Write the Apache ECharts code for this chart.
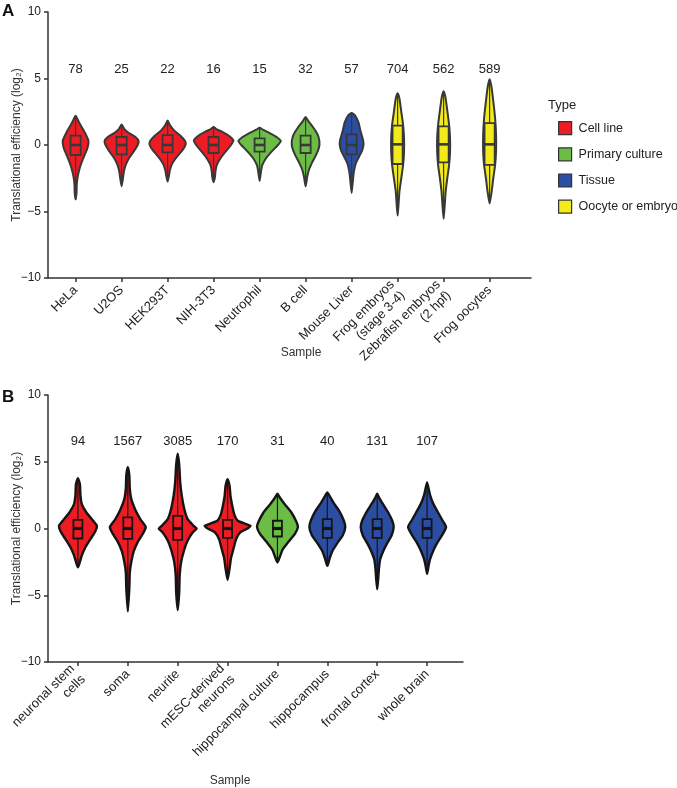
<!DOCTYPE html>
<html><head><meta charset="utf-8">
<script src="https://cdn.jsdelivr.net/npm/echarts@6/dist/echarts.min.js"></script>
<style>html,body{margin:0;padding:0;background:#fff}#c{width:677px;height:788px}</style>
</head><body><div id="c"></div>
<script>
// ---------- data ----------
const typeNames = ['Cell line', 'Primary culture', 'Tissue', 'Oocyte or embryo'];
const typeColors = ['#ED1C24', '#6CBD45', '#2B4EA2', '#F2EA1A'];

// Panel A
const samplesA = ['HeLa', 'U2OS', 'HEK293T', 'NIH-3T3', 'Neutrophil', 'B cell', 'Mouse Liver',
  'Frog embryos\n(stage 3-4)', 'Zebrafish embryos\n(2 hpf)', 'Frog oocytes'];
const typesA = [0, 0, 0, 0, 1, 1, 2, 3, 3, 3];
const countsA = [78, 25, 22, 16, 15, 32, 57, 704, 562, 589];
const maxA = [2.2, 1.55, 1.85, 1.35, 1.3, 2.1, 2.4, 3.9, 4.05, 4.95];
const minA = [-4.1, -3.1, -2.75, -2.8, -2.7, -3.1, -3.6, -5.3, -5.55, -4.4];
const q3A = [0.7, 0.6, 0.75, 0.6, 0.5, 0.7, 0.8, 1.45, 1.4, 1.65];
const medA = [0, 0, 0, 0, 0, 0, 0, 0.05, 0.05, 0.05];
const q1A = [-0.75, -0.7, -0.55, -0.6, -0.5, -0.6, -0.7, -1.43, -1.3, -1.5];
// violin outline: [value, half width]
const profA = [
  [[1.8,0.06],[1.3,0.14],[0.8,0.22],[0.3,0.28],[-0.2,0.26],[-0.8,0.19],[-1.4,0.12],[-2.0,0.07],[-2.5,0.04],[-3.0,0.025],[-3.6,0.02]],
  [[1.2,0.06],[0.9,0.16],[0.6,0.3],[0.3,0.37],[0.0,0.35],[-0.5,0.26],[-1.0,0.16],[-1.5,0.09],[-2.0,0.05],[-2.5,0.03]],
  [[1.5,0.05],[1.1,0.14],[0.7,0.28],[0.3,0.38],[0.0,0.39],[-0.4,0.32],[-0.9,0.2],[-1.4,0.1],[-1.9,0.05],[-2.3,0.03]],
  [[1.2,0.06],[1.0,0.18],[0.7,0.33],[0.35,0.43],[0.0,0.38],[-0.5,0.26],[-1.0,0.15],[-1.5,0.07],[-2.0,0.04],[-2.4,0.03]],
  [[1.15,0.07],[0.9,0.22],[0.6,0.37],[0.3,0.46],[0.0,0.4],[-0.5,0.26],[-1.0,0.14],[-1.5,0.06],[-2.0,0.03]],
  [[1.8,0.06],[1.3,0.17],[0.8,0.26],[0.3,0.3],[-0.2,0.29],[-0.8,0.22],[-1.4,0.13],[-1.9,0.07],[-2.4,0.035]],
  [[2.2,0.08],[1.7,0.15],[1.1,0.19],[0.5,0.24],[0.1,0.26],[-0.4,0.23],[-0.9,0.16],[-1.4,0.09],[-2.0,0.05],[-2.6,0.03]],
  [[3.5,0.04],[2.5,0.08],[1.5,0.12],[0.5,0.14],[-0.5,0.14],[-1.5,0.12],[-2.5,0.08],[-3.5,0.04],[-4.5,0.02]],
  [[3.6,0.04],[2.6,0.08],[1.5,0.12],[0.5,0.14],[-0.5,0.14],[-1.5,0.12],[-2.5,0.08],[-3.5,0.045],[-4.5,0.025]],
  [[4.4,0.04],[3.3,0.08],[2.0,0.12],[0.8,0.14],[-0.5,0.14],[-1.5,0.12],[-2.5,0.08],[-3.5,0.045]]
];

// Panel B
const samplesB = ['neuronal stem\ncells', 'soma', 'neurite', 'mESC-derived\nneurons',
  'hippocampal culture', 'hippocampus', 'frontal cortex', 'whole brain'];
const typesB = [0, 0, 0, 0, 1, 2, 2, 2];
const countsB = [94, 1567, 3085, 170, 31, 40, 131, 107];
const maxB = [3.76, 4.6, 5.6, 3.7, 2.6, 2.7, 2.6, 3.45];
const minB = [-2.9, -6.2, -6.1, -3.85, -2.55, -2.8, -4.55, -3.4];
const q3B = [0.65, 0.83, 0.95, 0.65, 0.58, 0.7, 0.7, 0.7];
const medB = [0, 0, 0, 0, 0, 0, 0, 0];
const q1B = [-0.75, -0.78, -0.85, -0.7, -0.6, -0.7, -0.7, -0.7];
const profB = [
  [[3.3,0.04],[2.5,0.05],[1.8,0.08],[1.2,0.17],[0.6,0.3],[0.2,0.38],[-0.2,0.35],[-0.8,0.25],[-1.4,0.15],[-2.0,0.08],[-2.5,0.04]],
  [[4.0,0.03],[3.0,0.04],[2.2,0.07],[1.4,0.15],[0.7,0.25],[0.1,0.36],[-0.4,0.3],[-1.0,0.2],[-1.7,0.12],[-2.5,0.07],[-3.3,0.04],[-4.5,0.03]],
  [[4.8,0.03],[3.5,0.05],[2.5,0.08],[1.5,0.13],[0.7,0.2],[0.2,0.32],[0.0,0.38],[-0.3,0.3],[-0.9,0.2],[-1.6,0.13],[-2.5,0.07],[-3.5,0.04],[-4.8,0.03]],
  [[3.2,0.04],[2.4,0.06],[1.6,0.1],[1.0,0.14],[0.6,0.2],[0.35,0.36],[0.2,0.46],[0.0,0.4],[-0.3,0.25],[-0.8,0.17],[-1.5,0.12],[-2.2,0.07],[-3.0,0.04]],
  [[2.3,0.05],[1.8,0.15],[1.2,0.28],[0.5,0.38],[0.1,0.41],[-0.4,0.35],[-1.0,0.22],[-1.6,0.1],[-2.1,0.05]],
  [[2.4,0.05],[1.9,0.13],[1.3,0.24],[0.6,0.33],[0.1,0.36],[-0.5,0.31],[-1.1,0.2],[-1.7,0.1],[-2.2,0.05]],
  [[2.3,0.04],[1.8,0.12],[1.2,0.22],[0.6,0.3],[0.1,0.33],[-0.5,0.29],[-1.1,0.2],[-1.7,0.12],[-2.3,0.06],[-3.0,0.035],[-3.8,0.02]],
  [[3.0,0.03],[2.5,0.06],[1.9,0.12],[1.2,0.22],[0.6,0.31],[0.1,0.38],[-0.5,0.3],[-1.1,0.2],[-1.7,0.12],[-2.3,0.06],[-2.8,0.03]]
];

const yTicks = [-10, -5, 0, 5, 10];

// ---------- rendering ----------
const panels = [
  {samples: samplesA, types: typesA, counts: countsA, max: maxA, min: minA, q1: q1A, med: medA, q3: q3A, prof: profA,
   outline: '#383838', lw: 2, boxHalf: 0.11, medW: 2.6, countLevel: 5.7},
  {samples: samplesB, types: typesB, counts: countsB, max: maxB, min: minB, q1: q1B, med: medB, q3: q3B, prof: profB,
   outline: '#151515', lw: 2.4, boxHalf: 0.09, medW: 3.2, countLevel: 6.5}
];

function makeViolinRender(P, color) {
  return function (params, api) {
    const x = api.value(0);
    const i = api.value(2);
    const prof = P.prof[i];
    const right = [[x, P.max[i]]].concat(prof.map(p => [x + p[1], p[0]])).concat([[x, P.min[i]]]);
    const left = prof.slice().reverse().map(p => [x - p[1], p[0]]);
    const pts = right.concat(left).map(p => api.coord(p));
    const top = api.coord([x, P.max[i]]);
    const bot = api.coord([x, P.min[i]]);
    const bTL = api.coord([x - P.boxHalf, P.q3[i]]);
    const bBR = api.coord([x + P.boxHalf, P.q1[i]]);
    const mL = api.coord([x - P.boxHalf, P.med[i]]);
    const mR = api.coord([x + P.boxHalf, P.med[i]]);
    return {
      type: 'group',
      children: [
        {type: 'polygon', shape: {points: pts, smooth: 0.2},
         style: {fill: color, stroke: P.outline, lineWidth: P.lw, lineJoin: 'round'}},
        {type: 'line', shape: {x1: top[0], y1: top[1], x2: bot[0], y2: bot[1]},
         style: {stroke: P.outline, lineWidth: 1.2}},
        {type: 'rect', shape: {x: bTL[0], y: bTL[1], width: bBR[0] - bTL[0], height: bBR[1] - bTL[1]},
         style: {fill: color, stroke: P.outline, lineWidth: 1.8}},
        {type: 'line', shape: {x1: mL[0], y1: mL[1], x2: mR[0], y2: mR[1]},
         style: {stroke: P.outline, lineWidth: P.medW}}
      ]
    };
  };
}

const series = [];
panels.forEach((P, pi) => {
  typeNames.forEach((tn, ti) => {
    const data = [];
    P.samples.forEach((s, i) => { if (P.types[i] === ti) data.push([i + 1, 0, i]); });
    if (!data.length) return;
    series.push({
      type: 'custom', name: tn, xAxisIndex: pi, yAxisIndex: pi,
      itemStyle: {color: typeColors[ti], borderColor: '#333', borderWidth: 1.2},
      encode: {x: 0, y: 1},
      renderItem: makeViolinRender(P, typeColors[ti]),
      data: data, silent: true
    });
  });
  series.push({
    type: 'custom', xAxisIndex: pi, yAxisIndex: pi, silent: true,
    encode: {x: 0, y: 1},
    renderItem: function (params, api) {
      const c = api.coord([api.value(0), api.value(1)]);
      return {type: 'text', x: c[0], y: c[1],
        style: {text: String(P.counts[api.value(2)]), textAlign: 'center', textVerticalAlign: 'middle',
          fontSize: 13, fontFamily: 'Liberation Sans', fill: '#222'}};
    },
    data: P.samples.map((s, i) => [i + 1, P.countLevel, i])
  });
});

const axisLineStyle = {color: '#333', width: 1.5};
function xAxisFor(samples, max, gi) {
  const vals = samples.map((s, i) => i + 1);
  return {
    type: 'value', gridIndex: gi, min: 0.4, max: max,
    axisLine: {show: true, onZero: false, lineStyle: axisLineStyle},
    axisTick: {show: true, customValues: vals, length: 4, lineStyle: axisLineStyle},
    axisLabel: {show: true, customValues: vals, rotate: 45, margin: 10, fontSize: 13, lineHeight: 15,
      fontFamily: 'Liberation Sans', color: '#222', formatter: v => samples[Math.round(v) - 1] || ''},
    splitLine: {show: false}
  };
}
function yAxisFor(gi) {
  return {
    type: 'value', gridIndex: gi, min: -10, max: 10, interval: 5,
    name: 'Translational efficiency (log\u2082)', nameLocation: 'middle', nameGap: 25,
    nameMoveOverlap: false,
    nameTextStyle: {fontSize: 12, fontFamily: 'Liberation Sans', color: '#333'},
    axisLine: {show: true, onZero: false, lineStyle: axisLineStyle},
    axisTick: {show: true, length: 4, lineStyle: axisLineStyle},
    axisLabel: {fontSize: 12, fontFamily: 'Liberation Sans', color: '#222', margin: 7,
      formatter: v => (yTicks.indexOf(v) >= 0 ? String(v).replace('-', '\u2212') : '')},
    splitLine: {show: false}
  };
}

const option = {
  backgroundColor: '#fff',
  animation: false,
  grid: [
    {left: 48, top: 12, width: 483, height: 266, outerBoundsMode: 'none', containLabel: false},
    {left: 48, top: 395, width: 415, height: 267, outerBoundsMode: 'none', containLabel: false}
  ],
  xAxis: [xAxisFor(samplesA, 10.9, 0), xAxisFor(samplesB, 8.72, 1)],
  yAxis: [yAxisFor(0), yAxisFor(1)],
  legend: {
    data: typeNames, orient: 'vertical', left: 553, top: 116,
    icon: 'rect', itemWidth: 13, itemHeight: 13, itemGap: 12,
    itemStyle: {borderColor: '#333', borderWidth: 1.2},
    textStyle: {fontSize: 12.5, fontFamily: 'Liberation Sans', color: '#222', padding: [0, 0, 0, 2]},
    selectedMode: false
  },
  graphic: [
    {type: 'text', left: 2, top: 3, style: {text: 'A', fontSize: 17, fontWeight: 'bold', fontFamily: 'Liberation Sans', fill: '#111'}},
    {type: 'text', left: 2, top: 389, style: {text: 'B', fontSize: 17, fontWeight: 'bold', fontFamily: 'Liberation Sans', fill: '#111'}},
    {type: 'text', left: 548, top: 99, style: {text: 'Type', fontSize: 13, fontFamily: 'Liberation Sans', fill: '#222'}},
    {type: 'text', x: 301, y: 353, style: {text: 'Sample', fontSize: 12, fontFamily: 'Liberation Sans', fill: '#333', textAlign: 'center', textVerticalAlign: 'middle'}},
    {type: 'text', x: 230, y: 781, style: {text: 'Sample', fontSize: 12, fontFamily: 'Liberation Sans', fill: '#333', textAlign: 'center', textVerticalAlign: 'middle'}}
  ],
  series: series
};

const chart = echarts.init(document.getElementById('c'), null, {renderer: 'canvas'});
chart.setOption(option);
</script>
</body></html>
